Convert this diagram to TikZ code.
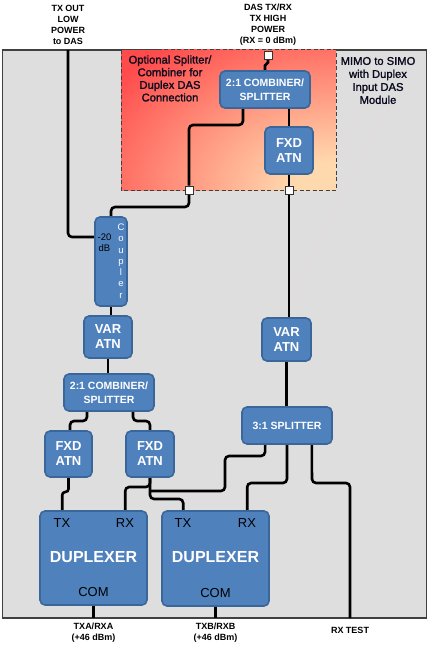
\documentclass[tikz,border=0pt]{standalone}
\usepackage{fontspec}
\setmainfont{Liberation Sans}
\newfontfamily\notefont{Liberation Sans}[FakeBold=1.6]
\usetikzlibrary{calc}
\definecolor{boxblue}{HTML}{4F81BD}
\definecolor{boxedge}{HTML}{3B6699}
\definecolor{bggray}{HTML}{DEDEDE}
\definecolor{redc}{HTML}{FF4B4B}
\definecolor{peachc}{HTML}{FFD9AE}
\definecolor{labelc}{HTML}{0A0A1E}
\definecolor{faintc}{HTML}{EFD9DD}
\pgfdeclareradialshading{redpeach}{\pgfpoint{0bp}{0bp}}{color(0bp)=(peachc); color(4bp)=(peachc); color(25bp)=(redc); color(50bp)=(redc)}
\pgfdeclarelayer{back}
\pgfdeclarelayer{mid}
\pgfsetlayers{back,mid,main}
\begin{document}
\begin{tikzpicture}[x=1pt,y=-1pt,
  blk/.style={draw=boxedge, line width=1.6pt, fill=boxblue, rounded corners=5pt, text=white, align=center, inner sep=0pt},
  blkbig/.style={blk, font=\fontsize{13}{15}\selectfont\bfseries},
  blkwide/.style={blk, font=\fontsize{10.5}{13.5}\selectfont\bfseries},
  wire/.style={line width=2.6pt, rounded corners=4pt},
  port/.style={draw=black!80, fill=white, line width=0.8pt, minimum size=8pt, inner sep=0pt},
  extlbl/.style={font=\fontsize{9}{11}\selectfont\bfseries, align=center, inner sep=0pt},
  note/.style={font=\notefont\fontsize{11.2}{12.6}\selectfont, text=labelc, align=center, inner sep=0pt},
  portlbl/.style={font=\fontsize{13}{15}\selectfont, inner sep=0pt},
]
\useasboundingbox (0,0) rectangle (429,650);

\begin{pgfonlayer}{back}
\fill[white] (0,0) rectangle (429,650);
\draw[fill=bggray, draw=black!75, line width=1.5pt] (2.5,50) rectangle (426.5,618);
\begin{scope}
\clip (121,50) rectangle (336,190);
\fill[redc] (121,50) rectangle (336,190);
\shade[shading=redpeach] (336,192) ellipse [x radius=275, y radius=185];
\end{scope}
\draw[black!75, line width=1pt, dash pattern=on 4pt off 2.5pt] (121,50) rectangle (336,190);
\draw[faintc, line width=0.5pt] (367,97) -- (340,158);
\draw[faintc, line width=0.5pt] (387,105) -- (290,298);
\end{pgfonlayer}

% labels
\node[note] (opt) at (170,78.5) {Optional Splitter/\\Combiner for\\Duplex DAS\\Connection};
\node[note, font=\notefont\fontsize{11.2}{13}\selectfont] (mimo) at (378,80.5) {MIMO to SIMO\\with Duplex\\Input DAS\\Module};
\node[extlbl] (lbltx) at (68,25) {TX OUT\\LOW\\POWER\\to DAS};
\node[extlbl] (lbldas) at (268,25) {DAS TX/RX\\TX HIGH\\POWER\\(RX = 0 dBm)};
\node[extlbl] (lbla) at (93.5,632.5) {TXA/RXA\\(+46 dBm)};
\node[extlbl] (lblb) at (215.5,632.5) {TXB/RXB\\(+46 dBm)};
\node[extlbl] (lblt) at (350,630) {RX TEST};

% blocks
\node[blkwide, minimum width=90, minimum height=37] (comb1) at (265,89.5) {2:1 COMBINER/\\SPLITTER};
\node[blkbig, minimum width=48, minimum height=47] (fxd1) at (289,150.5) {FXD\\ATN};
\node[blk, minimum width=32, minimum height=89] (coupler) at (111,261.5) {};
\node[font=\fontsize{9.5}{11}\selectfont, align=center, inner sep=0pt] (cpldb) at (104.5,242.5) {-20\\dB};
\node[font=\fontsize{9.5}{11.3}\selectfont, text=white, align=center, inner sep=0pt] (cpltxt) at (121,261) {C\\o\\u\\p\\l\\e\\r};
\node[blkbig, minimum width=48, minimum height=42] (var1) at (108,337) {VAR\\ATN};
\node[blkwide, minimum width=90, minimum height=37] (comb2) at (109,392.5) {2:1 COMBINER/\\SPLITTER};
\node[blkbig, minimum width=47, minimum height=46] (fxd2) at (68.5,454) {FXD\\ATN};
\node[blkbig, minimum width=48, minimum height=46] (fxd3) at (150,454) {FXD\\ATN};
\node[blkbig, minimum width=49, minimum height=43] (var2) at (286.5,339.5) {VAR\\ATN};
\node[blkwide, minimum width=90, minimum height=37] (split3) at (287,425.5) {3:1 SPLITTER};
\node[blk, minimum width=107, minimum height=94] (dup1) at (93.5,558) {};
\node[blk, minimum width=107, minimum height=95] (dup2) at (215.5,558.5) {};
\node[portlbl] (tx1) at (62,523) {TX};
\node[portlbl] (rx1) at (125,523) {RX};
\node[text=white, font=\fontsize{16}{18}\selectfont\bfseries, inner sep=0pt] (dl1) at (93.5,557) {DUPLEXER};
\node[portlbl] (com1) at (93.5,592) {COM};
\node[portlbl] (tx2) at (183,523) {TX};
\node[portlbl] (rx2) at (247,523) {RX};
\node[text=white, font=\fontsize{16}{18}\selectfont\bfseries, inner sep=0pt] (dl2) at (215.5,557) {DUPLEXER};
\node[portlbl] (com2) at (215.5,593) {COM};

% ports
\node[port] (sqTop) at (268,55) {};
\node[port] (sqL) at (189,190) {};
\node[port] (sqR) at (289,190) {};

% free ends
\coordinate (txin) at (68,50);
\coordinate (jn) at (151,491);
\coordinate (rxtest) at (350,618);
\coordinate (txa) at (93.5,618);
\coordinate (txb) at (215.5,618);

\begin{pgfonlayer}{mid}
\draw[wire, rounded corners=1.5pt] (sqTop.south) -- (268,64) -| (comb1.north);
\draw[wire] ($(comb1.south)+(-22,0)$) -- (243,125) -| (sqL.north);
\draw[wire] (comb1.south -| fxd1.north) -- (fxd1.north);
\draw[wire] (fxd1.south) -- (sqR.north);
\draw[wire] (sqL.south) -- (189,207) -| (coupler.north);
\draw[wire] (txin) |- ($(coupler.north west)!0.23!(coupler.south west)$);
\draw[wire] (sqR.south) -- (sqR.south |- var2.north);
\draw[wire] (coupler.south) -- (coupler.south |- var1.north);
\draw[wire] (var1.south) -- (var1.south |- comb2.north);
\draw[wire] ($(comb2.south)+(-22,0)$) -- (87,421) -| ($(fxd2.north)+(1.5,0)$);
\draw[wire] ($(comb2.south)+(24,0)$) -- (133,421) -| (fxd3.north);
\draw[wire] (var2.south) -- (var2.south |- split3.north);
\draw[wire, rounded corners=3pt] (fxd2.south) -- (68.5,492) -| ($(dup1.north west)+(23,0)$);
\draw[wire] (fxd3.south) -- (150,487) -| ($(dup1.north west)+(86,0)$);
\draw[wire] (fxd3.south) -- (150,499) -| ($(dup2.north west)+(22,0)$);
\draw[wire] ($(split3.south west)+(24,0)$) -- (265,456) -- (225,456) -- (225,491) -- (jn);
\draw[wire] (split3.south) -- (287,483) -| ($(dup2.north west)+(86,0)$);
\draw[wire] ($(split3.south east)+(-21,0)$) -- (312,483) -| (rxtest);
\draw[wire] (dup1.south) -- (txa);
\draw[wire] (dup2.south) -- (txb);
\end{pgfonlayer}
\end{tikzpicture}
\end{document}
